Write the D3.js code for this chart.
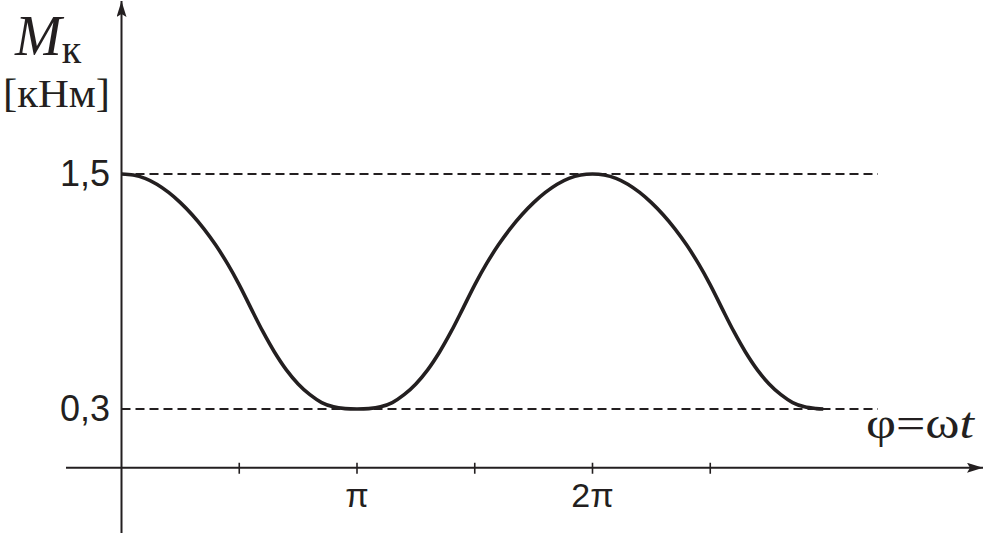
<!DOCTYPE html>
<html>
<head>
<meta charset="utf-8">
<script src="https://cdn.jsdelivr.net/npm/d3@7"></script>
<style>
  html, body { margin: 0; padding: 0; background: #ffffff; }
  svg { display: block; }
</style>
</head>
<body>
<svg id="chart" width="985" height="535"></svg>
<script>
// ---- data (phase φ in units of π, torque M in kN·m) ----
const phase = [
  0.00, 0.05, 0.10, 0.15, 0.20, 0.25, 0.30, 0.35, 0.40, 0.45, 0.50,
  0.55, 0.60, 0.65, 0.70, 0.75, 0.80, 0.85, 0.90, 0.95, 1.00,
  1.05, 1.10, 1.15, 1.20, 1.25, 1.30, 1.35, 1.40, 1.45, 1.50,
  1.55, 1.60, 1.65, 1.70, 1.75, 1.80, 1.85, 1.90, 1.95, 2.00,
  2.05, 2.10, 2.15, 2.20, 2.25, 2.30, 2.35, 2.40, 2.45, 2.50,
  2.55, 2.60, 2.65, 2.70, 2.75, 2.80, 2.85, 2.90, 2.95, 2.98];
const torque = [
  1.500, 1.495, 1.478, 1.448, 1.406, 1.354, 1.292, 1.220, 1.137, 1.042, 0.934,
  0.814, 0.696, 0.590, 0.500, 0.428, 0.373, 0.333, 0.311, 0.302, 0.300,
  0.302, 0.311, 0.333, 0.373, 0.428, 0.500, 0.590, 0.696, 0.814, 0.934,
  1.042, 1.137, 1.220, 1.292, 1.354, 1.406, 1.448, 1.478, 1.495, 1.500,
  1.495, 1.478, 1.448, 1.406, 1.354, 1.292, 1.220, 1.137, 1.042, 0.934,
  0.814, 0.696, 0.590, 0.500, 0.428, 0.373, 0.333, 0.311, 0.302, 0.300];
const yLevels = [1.5, 0.3];
const yLevelLabels = ["1,5", "0,3"];
const xTicks = [0.5, 1, 1.5, 2, 2.5];
const xTickLabels = {1: "π", 2: "2π"};

const ink = "#231f20";
const svg = d3.select("#chart");

const x = d3.scaleLinear().domain([0, 3]).range([121.5, 828]);
const y = d3.scaleLinear().domain([0.3, 1.5]).range([409, 174]);

const x0 = x(0), y0 = y(0);

// arrow marker
const defs = svg.append("defs");
defs.append("marker").attr("id", "arr").attr("viewBox", "0 0 16 10")
  .attr("refX", 16).attr("refY", 5).attr("markerWidth", 16).attr("markerHeight", 10)
  .attr("markerUnits", "userSpaceOnUse").attr("orient", "auto")
  .append("path").attr("d", "M0,0 L16,5 L0,10 L3,5 Z").attr("fill", ink);

// dashed reference lines
svg.selectAll("line.ref").data(yLevels).join("line")
  .attr("class", "ref")
  .attr("x1", x0).attr("x2", 878)
  .attr("y1", d => y(d)).attr("y2", d => y(d))
  .attr("stroke", ink).attr("stroke-width", 1.8)
  .attr("stroke-dasharray", "9,5");

// axes
svg.append("line").attr("x1", 66).attr("x2", 983).attr("y1", y0).attr("y2", y0)
  .attr("stroke", ink).attr("stroke-width", 2).attr("marker-end", "url(#arr)");
svg.append("line").attr("x1", x0).attr("x2", x0).attr("y1", 533).attr("y2", 1)
  .attr("stroke", ink).attr("stroke-width", 2).attr("marker-end", "url(#arr)");

// x ticks
svg.selectAll("line.tick").data(xTicks).join("line")
  .attr("class", "tick")
  .attr("x1", d => x(d)).attr("x2", d => x(d))
  .attr("y1", y0 - 5).attr("y2", y0 + 6)
  .attr("stroke", ink).attr("stroke-width", 1.6);

svg.selectAll("text.xl").data(xTicks.filter(d => xTickLabels[d])).join("text")
  .attr("class", "xl")
  .attr("x", d => x(d)).attr("y", 507)
  .attr("text-anchor", "middle")
  .attr("font-family", "Liberation Sans, Arial, sans-serif")
  .attr("font-size", 34).attr("fill", ink)
  .text(d => xTickLabels[d]);

// y level labels
svg.selectAll("text.yl").data(yLevels).join("text")
  .attr("class", "yl")
  .attr("x", 110).attr("y", d => y(d) + 12)
  .attr("text-anchor", "end")
  .attr("font-family", "Liberation Sans, Arial, sans-serif")
  .attr("font-size", 36).attr("fill", ink)
  .text((d, i) => yLevelLabels[i]);

// curve
const line = d3.line().x(d => x(d[0])).y(d => y(d[1])).curve(d3.curveCatmullRom.alpha(0.5));
svg.append("path")
  .datum(phase.map((p, i) => [p, torque[i]]))
  .attr("d", line)
  .attr("fill", "none").attr("stroke", ink).attr("stroke-width", 3.6)
  .attr("stroke-linecap", "butt");

// y-axis title
const yt = svg.append("text").attr("x", 15).attr("y", 55)
  .attr("font-family", "Liberation Serif, Times New Roman, serif").attr("fill", ink);
yt.append("tspan").attr("font-style", "italic").attr("font-size", 56).text("M");
yt.append("tspan").attr("font-size", 40).attr("dy", 8).text("к");

svg.append("text").attr("x", 3).attr("y", 107)
  .attr("font-family", "Liberation Serif, Times New Roman, serif")
  .attr("font-size", 40).attr("fill", ink)
  .attr("textLength", 107).attr("lengthAdjust", "spacingAndGlyphs")
  .text("[кНм]");

// x-axis title
const xt = svg.append("text").attr("x", 866).attr("y", 438)
  .attr("font-family", "Liberation Serif, Times New Roman, serif")
  .attr("font-size", 44).attr("fill", ink)
  .attr("textLength", 108).attr("lengthAdjust", "spacingAndGlyphs");
xt.append("tspan").text("φ=ω");
xt.append("tspan").attr("font-style", "italic").text("t");
</script>
</body>
</html>
